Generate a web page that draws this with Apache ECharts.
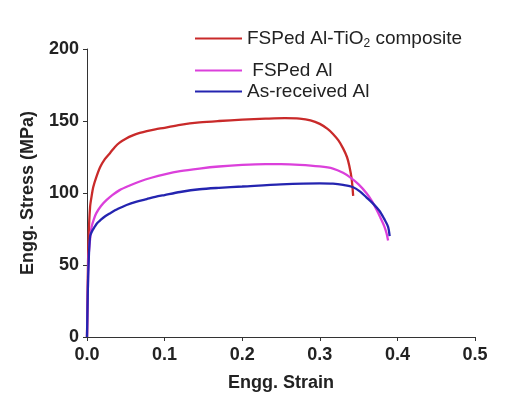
<!DOCTYPE html>
<html>
<head>
<meta charset="utf-8">
<script src="https://cdn.jsdelivr.net/npm/echarts@6/dist/echarts.min.js"></script>
<style>
html, body { margin: 0; padding: 0; background: #fff; }
#chart { width: 506px; height: 401px; }
</style>
</head>
<body>
<div id="chart"></div>
<script>
// 各曲线的数据（应变, 应力 MPa）
var compositeStrain = [0, 0.001, 0.002, 0.004, 0.006, 0.008, 0.012, 0.017, 0.023, 0.03, 0.036, 0.042, 0.05, 0.059, 0.068, 0.077, 0.088, 0.1, 0.12, 0.145, 0.17, 0.2, 0.23, 0.255, 0.274, 0.288, 0.3, 0.31, 0.317, 0.324, 0.33, 0.335, 0.338, 0.341, 0.343];
var compositeStress = [0, 40, 68, 90.5, 98, 104, 111, 118, 123.5, 128, 132, 135, 137.7, 140, 141.7, 143, 144.2, 145.3, 147.3, 149, 150, 150.9, 151.6, 152, 151.7, 150.5, 148, 144.5, 141, 136.5, 131, 125, 119, 110, 98];

var fspStrain = [0, 0.001, 0.002, 0.004, 0.006, 0.009, 0.012, 0.018, 0.025, 0.033, 0.042, 0.055, 0.068, 0.083, 0.1, 0.12, 0.145, 0.17, 0.2, 0.23, 0.25, 0.274, 0.3, 0.317, 0.33, 0.34, 0.35, 0.36, 0.367, 0.373, 0.378, 0.383, 0.386, 0.388];
var fspStress = [0, 30, 55, 68, 76.6, 82, 86, 91, 95, 98.7, 102, 105.2, 108, 110.6, 113, 115.2, 117, 118.4, 119.5, 120, 120, 119.6, 118.5, 117, 114, 110.5, 106, 100, 94.5, 88.5, 83, 77, 72, 67];

var asStrain = [0, 0.001, 0.002, 0.004, 0.007, 0.01, 0.013, 0.017, 0.023, 0.03, 0.04, 0.051, 0.064, 0.077, 0.088, 0.1, 0.12, 0.145, 0.17, 0.2, 0.25, 0.3, 0.317, 0.33, 0.343, 0.352, 0.36, 0.368, 0.377, 0.383, 0.388, 0.39];
var asStress = [0, 30, 50, 70, 74, 76.6, 79, 81, 83.7, 86, 89, 91.7, 94, 95.8, 97.3, 98.6, 100.7, 102.6, 103.6, 104.5, 106, 106.7, 106.5, 105.6, 104, 101, 97, 93, 87.5, 82, 76.5, 70];

var seriesNames = ['FSPed Al-TiO2 composite', ' FSPed Al', 'As-received Al'];
var xTicks = [0, 0.1, 0.2, 0.3, 0.4, 0.5];
var yTicks = [0, 50, 100, 150, 200];

function pairs(xs, ys) {
	var out = [];
	for (var i = 0; i < xs.length; i++) {
		out.push([xs[i], ys[i]]);
	}
	return out;
}

var chart = echarts.init(document.getElementById('chart'));

var font = 'Liberation Sans, Arial, sans-serif';
var legendText = {
	fontFamily: font,
	fontSize: 19,
	color: '#222',
	rich: {
		n: { fontFamily: font, fontSize: 19, color: '#222' },
		s: { fontFamily: font, fontSize: 12, color: '#222', padding: [11, 0, 0, 0] }
	}
};

function legendAt(name, top) {
	return {
		data: [name],
		left: 195,
		top: top,
		padding: 0,
		itemWidth: 47,
		itemHeight: 14,
		itemGap: 0,
		icon: 'path://M0,6L47,6L47,8L0,8Z',
		textStyle: legendText,
		formatter: function (n) {
			if (n.indexOf('TiO2') >= 0) {
				return '{n|FSPed Al-TiO}{s|2}{n| composite}';
			}
			return n;
		}
	};
}

var axisFont = { fontFamily: font, fontSize: 18, fontWeight: 'bold', color: '#222' };

var option = {
	animation: false,
	grid: { left: 87, right: 31, top: 49, bottom: 64 },
	legend: [
		legendAt(seriesNames[0], 29),
		legendAt(seriesNames[1], 61),
		legendAt(seriesNames[2], 82)
	],
	xAxis: {
		type: 'value',
		min: xTicks[0],
		max: xTicks[xTicks.length - 1],
		interval: 0.1,
		name: 'Engg. Strain',
		nameLocation: 'middle',
		nameGap: 37,
		nameTextStyle: axisFont,
		axisLine: { lineStyle: { color: '#333', width: 1 } },
		axisTick: { show: true, length: 4, lineStyle: { color: '#333' } },
		axisLabel: {
			fontFamily: font, fontSize: 18, fontWeight: 'bold', color: '#222', margin: 9,
			formatter: function (v) { return v.toFixed(1); }
		},
		splitLine: { show: false }
	},
	yAxis: {
		type: 'value',
		min: yTicks[0],
		max: yTicks[yTicks.length - 1],
		interval: 50,
		name: 'Engg. Stress (MPa)',
		nameLocation: 'middle',
		nameGap: 50,
		nameTextStyle: axisFont,
		axisLine: { show: true, lineStyle: { color: '#333', width: 1 } },
		axisTick: { show: true, length: 4, lineStyle: { color: '#333' } },
		axisLabel: { fontFamily: font, fontSize: 18, fontWeight: 'bold', color: '#222', margin: 8 },
		splitLine: { show: false }
	},
	series: [
		{
			name: seriesNames[0], type: 'line', smooth: 0.3, showSymbol: false,
			data: pairs(compositeStrain, compositeStress),
			lineStyle: { color: '#c92a2a', width: 2.3 }, itemStyle: { color: '#c92a2a' }
		},
		{
			name: seriesNames[1], type: 'line', smooth: 0.3, showSymbol: false,
			data: pairs(fspStrain, fspStress),
			lineStyle: { color: '#db40db', width: 2.3 }, itemStyle: { color: '#db40db' }
		},
		{
			name: seriesNames[2], type: 'line', smooth: 0.3, showSymbol: false,
			data: pairs(asStrain, asStress),
			lineStyle: { color: '#2424b0', width: 2.3 }, itemStyle: { color: '#2424b0' }
		}
	]
};

chart.setOption(option);
</script>
</body>
</html>
